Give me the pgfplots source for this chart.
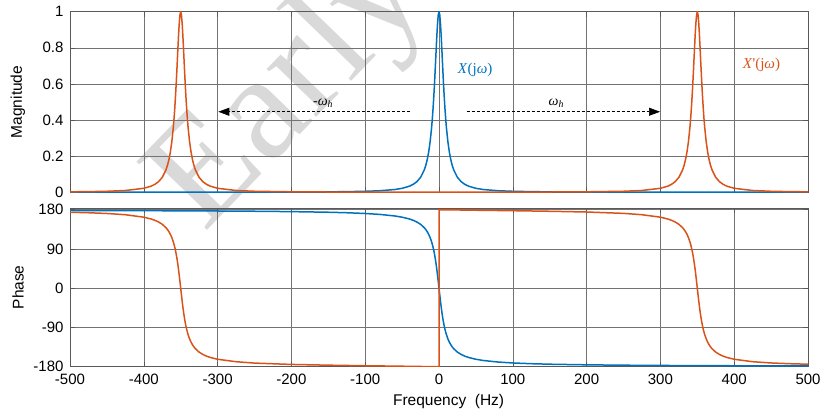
\documentclass[border=0pt]{standalone}
\usepackage{pgfplots}
\pgfplotsset{compat=1.18}
\usepackage{fontspec}
\setmainfont{Liberation Sans}
\newfontfamily\serif{Liberation Serif}
\usetikzlibrary{arrows.meta}
\definecolor{mblue}{RGB}{0,114,189}
\definecolor{morange}{RGB}{217,83,25}
\pgfplotsset{
  myax/.style={
    scale only axis, width=738bp, xmin=-500, xmax=500,
    xtick={-500,-400,...,500},
    grid=major, major grid style={black!55, line width=0.6bp},
    axis line style={black!65, line width=0.8bp},
    tick align=inside, major tick length=5bp,
    every tick/.style={black!65, line width=0.6bp},
    ticklabel style={font=\fontsize{15bp}{18bp}\selectfont},
    xticklabel style={yshift=-4bp},
    yticklabel style={xshift=-3bp},
    /pgf/number format/assume math mode=true,
    every axis y label/.style={at={(axis description cs:-0.0705,0.5)}, rotate=90, anchor=center, font=\fontsize{15.5bp}{18bp}\selectfont},
    every axis x label/.style={at={(axis description cs:0.513,0)}, anchor=center, yshift=-35bp, font=\fontsize{15.5bp}{18bp}\selectfont},
  }
}
\begin{document}
\begin{tikzpicture}[x=1bp,y=1bp]
% watermark
\node[rotate=46, font=\serif\fontsize{150bp}{150bp}\selectfont, text=black!15] at (292,322) {Early};

\begin{axis}[myax, at={(70bp,221.7bp)}, anchor=south west, height=180.6bp,
  ymin=0, ymax=1, ytick={0,0.2,0.4,0.6,0.8,1}, xticklabels={},
  ylabel={Magnitude}]
\addplot[mblue, line width=1.5bp] coordinates {(-500,0.00022)(-400,0.00035)(-300,0.00062)(-250,0.0009)(-200,0.0014)(-150,0.00249)(-125,0.00359)(-100,0.00559)(-80,0.00871)(-60,0.01538)(-50,0.022)(-40,0.03396)(-35,0.0439)(-30,0.05882)(-25,0.08257)(-20,0.12329)(-18,0.14793)(-16,0.18014)(-14,0.22299)(-12,0.2809)(-10,0.36)(-9,0.40984)(-8,0.46778)(-7,0.53444)(-6,0.60976)(-5,0.69231)(-4,0.77855)(-3,0.86207)(-2,0.93361)(-1,0.98253)(0,1)(1,0.98253)(2,0.93361)(3,0.86207)(4,0.77855)(5,0.69231)(6,0.60976)(7,0.53444)(8,0.46778)(9,0.40984)(10,0.36)(12,0.2809)(14,0.22299)(16,0.18014)(18,0.14793)(20,0.12329)(25,0.08257)(30,0.05882)(35,0.0439)(40,0.03396)(50,0.022)(60,0.01538)(80,0.00871)(100,0.00559)(125,0.00359)(150,0.00249)(200,0.0014)(250,0.0009)(300,0.00062)(400,0.00035)(500,0.00022)};
\addplot[morange, line width=1.5bp] coordinates {(-500,0.00257)(-475,0.0037)(-450,0.00566)(-425,0.01)(-400,0.0221)(-390,0.0341)(-385,0.044)(-380,0.0589)(-375,0.0826)(-370,0.1233)(-368,0.1479)(-366,0.1801)(-364,0.223)(-362,0.2809)(-360,0.36)(-359,0.4098)(-358,0.4678)(-357,0.5344)(-356,0.6098)(-355,0.6923)(-354,0.7786)(-353,0.8621)(-352,0.9336)(-351,0.9825)(-350,1)(-349,0.9825)(-348,0.9336)(-347,0.8621)(-346,0.7786)(-345,0.6923)(-344,0.6098)(-343,0.5344)(-342,0.4678)(-341,0.4098)(-340,0.36)(-338,0.2809)(-336,0.223)(-334,0.1801)(-332,0.1479)(-330,0.1233)(-325,0.0826)(-320,0.0589)(-315,0.044)(-310,0.0341)(-300,0.0221)(-275,0.0101)(-250,0.0057)(-200,0.0027)(-150,0.0016)(-100,0.0012)(-50,0.001)(0,0.0009)(50,0.001)(100,0.0012)(150,0.0016)(200,0.0027)(250,0.0057)(275,0.0101)(300,0.0221)(310,0.0341)(315,0.044)(320,0.0589)(325,0.0826)(330,0.1233)(332,0.1479)(334,0.1801)(336,0.223)(338,0.2809)(340,0.36)(341,0.4098)(342,0.4678)(343,0.5344)(344,0.6098)(345,0.6923)(346,0.7786)(347,0.8621)(348,0.9336)(349,0.9825)(350,1)(351,0.9825)(352,0.9336)(353,0.8621)(354,0.7786)(355,0.6923)(356,0.6098)(357,0.5344)(358,0.4678)(359,0.4098)(360,0.36)(362,0.2809)(364,0.223)(366,0.1801)(368,0.1479)(370,0.1233)(375,0.0826)(380,0.0589)(385,0.044)(390,0.0341)(400,0.0221)(425,0.01)(450,0.00566)(475,0.0037)(500,0.00257)};
\node[text=mblue, font=\serif\fontsize{15bp}{18bp}\selectfont] at (axis cs:49,0.677) {\textit{X}(j\textit{ω})};
\node[text=morange, font=\serif\fontsize{15bp}{18bp}\selectfont] at (axis cs:437,0.705) {\textit{X}'(j\textit{ω})};
\draw[line width=0.7bp, dash pattern=on 3bp off 2bp, -{Triangle[length=11bp,width=8bp]}] (axis cs:-39,0.446) -- (axis cs:-299,0.446);
\draw[line width=0.7bp, dash pattern=on 3bp off 2bp, -{Triangle[length=11bp,width=8bp]}] (axis cs:37.5,0.446) -- (axis cs:299.5,0.446);
\node[font=\serif\fontsize{14bp}{16bp}\selectfont] at (axis cs:-157,0.494) {-\textit{ω}\textsubscript{\textit{h}}};
\node[font=\serif\fontsize{14bp}{16bp}\selectfont] at (axis cs:159,0.494) {\textit{ω}\textsubscript{\textit{h}}};
\end{axis}

\begin{axis}[myax, at={(70bp,47.3bp)}, anchor=south west, height=158.7bp,
  ymin=-180, ymax=184, ytick={-180,-90,0,90,180},
  ylabel={Phase}, xlabel={Frequency\ \ (Hz)}]
\addplot[mblue, line width=1.5bp] coordinates {(-500,178.28)(-450,178.09)(-400,177.85)(-350,177.54)(-300,177.14)(-250,176.56)(-200,175.7)(-150,174.28)(-125,173.13)(-100,171.42)(-80,169.29)(-60,165.75)(-50,162.94)(-40,158.76)(-35,155.81)(-30,151.93)(-25,146.6)(-20,138.88)(-18,134.76)(-16,129.78)(-14,123.64)(-12,115.99)(-10,106.26)(-9,100.39)(-8,93.7)(-7,86.06)(-6,77.32)(-5,67.38)(-4,56.14)(-3,43.6)(-2,29.86)(-1,15.19)(0,0)(1,-15.19)(2,-29.86)(3,-43.6)(4,-56.14)(5,-67.38)(6,-77.32)(7,-86.06)(8,-93.7)(9,-100.39)(10,-106.26)(12,-115.99)(14,-123.64)(16,-129.78)(18,-134.76)(20,-138.88)(25,-146.6)(30,-151.93)(35,-155.81)(40,-158.76)(50,-162.94)(60,-165.75)(80,-169.29)(100,-171.42)(125,-173.13)(150,-174.28)(200,-175.7)(250,-176.56)(300,-177.14)(350,-177.54)(400,-177.85)(450,-178.09)(500,-178.28)};
\addplot[morange, line width=1.5bp] coordinates {(-500,174.28)(-475,173.13)(-450,171.42)(-425,168.58)(-400,162.94)(-390,158.76)(-385,155.81)(-380,151.93)(-375,146.6)(-370,138.88)(-368,134.76)(-366,129.78)(-364,123.64)(-362,115.99)(-360,106.26)(-359,100.39)(-358,93.7)(-357,86.06)(-356,77.32)(-355,67.38)(-354,56.14)(-353,43.6)(-352,29.86)(-351,15.19)(-350,0)(-349,-15.19)(-348,-29.86)(-347,-43.6)(-346,-56.14)(-345,-67.38)(-344,-77.32)(-343,-86.06)(-342,-93.7)(-341,-100.39)(-340,-106.26)(-338,-115.99)(-336,-123.64)(-334,-129.78)(-332,-134.76)(-330,-138.88)(-325,-146.6)(-320,-151.93)(-315,-155.81)(-310,-158.76)(-300,-162.94)(-275,-168.58)(-250,-171.7)(-200,-174.8)(-150,-176.5)(-100,-177.8)(-50,-178.9)(-25,-179.5)(0,-180)(0,180)(25,179.5)(50,178.9)(100,177.8)(150,176.5)(200,174.8)(250,171.7)(275,168.58)(300,162.94)(310,158.76)(315,155.81)(320,151.93)(325,146.6)(330,138.88)(332,134.76)(334,129.78)(336,123.64)(338,115.99)(340,106.26)(341,100.39)(342,93.7)(343,86.06)(344,77.32)(345,67.38)(346,56.14)(347,43.6)(348,29.86)(349,15.19)(350,0)(351,-15.19)(352,-29.86)(353,-43.6)(354,-56.14)(355,-67.38)(356,-77.32)(357,-86.06)(358,-93.7)(359,-100.39)(360,-106.26)(362,-115.99)(364,-123.64)(366,-129.78)(368,-134.76)(370,-138.88)(375,-146.6)(380,-151.93)(385,-155.81)(390,-158.76)(400,-162.94)(425,-168.58)(450,-171.42)(475,-173.13)(500,-174.28)};
\end{axis}
\pgfresetboundingbox
\path[use as bounding box] (0,0) rectangle (821,414);
\end{tikzpicture}
\end{document}
